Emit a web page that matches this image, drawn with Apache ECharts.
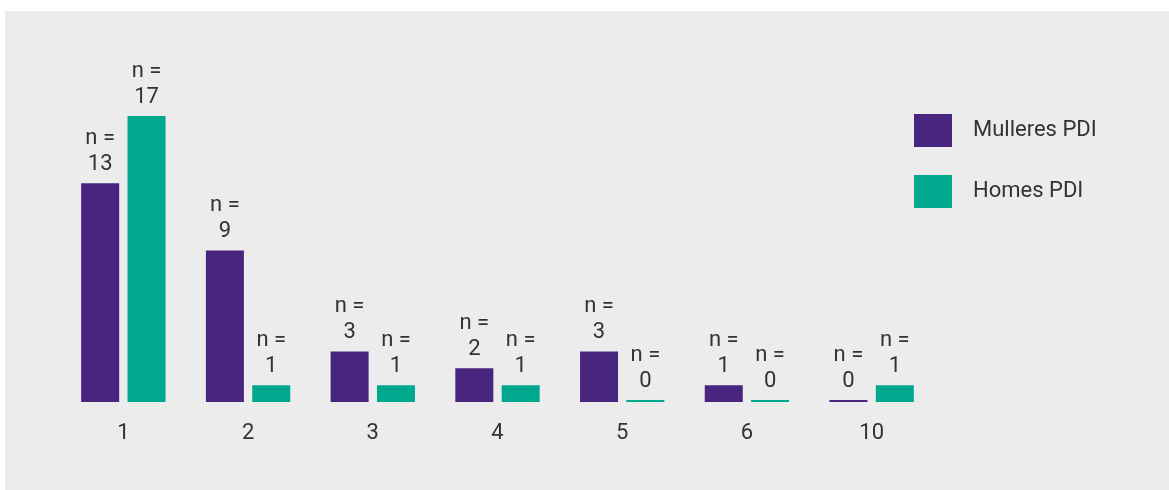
<!DOCTYPE html>
<html>
<head>
<meta charset="utf-8">
<script src="https://cdn.jsdelivr.net/npm/echarts@6/dist/echarts.min.js"></script>
<style>
html,body{margin:0;padding:0;background:#fff;}
#chart{width:1169px;height:490px;}
</style>
</head>
<body>
<div id="chart"></div>
<script>
const categories = ['1', '2', '3', '4', '5', '6', '10'];
const seriesNames = ['Mulleres PDI', 'Homes PDI'];
const mulleres = [13, 9, 3, 2, 3, 1, 0];
const homes = [17, 1, 1, 1, 0, 0, 1];

const chart = echarts.init(document.getElementById('chart'));
const labelCfg = {
  show: true,
  position: 'top',
  distance: 6,
  formatter: 'n =\n{c}',
  fontFamily: 'Roboto',
  fontSize: 22,
  lineHeight: 26,
  color: '#333333'
};
chart.setOption({
  backgroundColor: '#ffffff',
  animation: false,
  graphic: [{
    type: 'rect',
    z: -10,
    silent: true,
    shape: {x: 5, y: 11, width: 1164, height: 479},
    style: {fill: '#ececec'}
  }],
  legend: {
    orient: 'vertical',
    left: 909,
    top: 109,
    itemWidth: 38,
    itemHeight: 33,
    itemGap: 28,
    icon: 'rect',
    textStyle: {fontFamily: 'Roboto', fontSize: 22, color: '#333333', padding: [0, 0, 0, 16]},
    data: seriesNames
  },
  grid: {left: 61, right: 1169 - 934, top: 116, bottom: 88, containLabel: false},
  xAxis: {
    type: 'category',
    data: categories,
    axisLine: {show: false},
    axisTick: {show: false},
    axisLabel: {fontFamily: 'Roboto', fontSize: 22, color: '#333333', margin: 20}
  },
  yAxis: {
    type: 'value',
    min: 0,
    max: 17,
    show: false,
    splitLine: {show: false}
  },
  series: [
    {
      name: seriesNames[0],
      type: 'bar',
      data: mulleres,
      barWidth: 38,
      barGap: '22%',
      barMinHeight: 2,
      itemStyle: {color: '#48257f'},
      label: labelCfg
    },
    {
      name: seriesNames[1],
      type: 'bar',
      data: homes,
      barWidth: 38,
      barGap: '22%',
      barMinHeight: 2,
      itemStyle: {color: '#00a88e'},
      label: labelCfg
    }
  ]
});
</script>
</body>
</html>
